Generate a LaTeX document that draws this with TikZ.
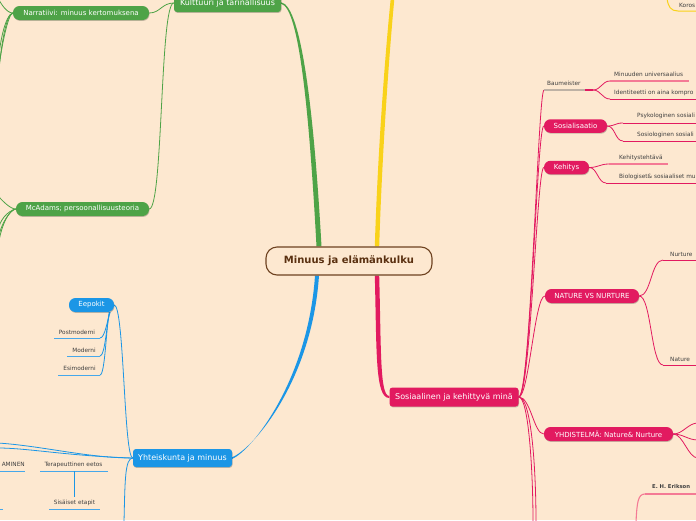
\documentclass[tikz,border=0pt]{standalone}
\usepackage{fontspec}
\setmainfont{DejaVu Sans}
\usetikzlibrary{shadows}
\pgfdeclarelayer{background}
\pgfsetlayers{background,main}
\definecolor{bg}{RGB}{253,232,208}
\definecolor{mgreen}{RGB}{78,163,71}
\definecolor{mblue}{RGB}{27,150,230}
\definecolor{lblue}{RGB}{70,168,235}
\definecolor{mpink}{RGB}{226,26,96}
\definecolor{lpink}{RGB}{244,122,149}
\definecolor{myellow}{RGB}{249,210,26}
\definecolor{leafgray}{RGB}{64,64,64}
\definecolor{rootbrown}{RGB}{110,66,32}
\definecolor{roottext}{RGB}{90,48,16}
\definecolor{baumgray}{RGB}{190,178,165}
\tikzset{
  shad/.style={drop shadow={shadow xshift=0.5pt, shadow yshift=-0.9pt, opacity=0.22, fill=black}},
  mainbox/.style={fill=#1, rounded corners=3pt, text=white, font=\fontsize{8}{9.6}\selectfont, inner sep=0pt, minimum height=18pt, shad},
  pill/.style={fill=#1, rounded corners=6.5pt, text=white, font=\fontsize{7}{8.4}\selectfont, inner sep=0pt, minimum height=14pt, shad},
  leaf/.style={font=\fontsize{5.8}{7}\selectfont, text=leafgray, inner sep=0pt},
  gline/.style={draw=mgreen, line width=0.8pt},
  bline/.style={draw=mblue, line width=0.8pt},
  bleaf/.style={draw=lblue, line width=1pt},
  pline/.style={draw=mpink, line width=0.8pt},
  pleaf/.style={draw=mpink, line width=1pt},
  plight/.style={draw=lpink, line width=1.1pt},
  yline/.style={draw=myellow, line width=1pt},
}
\begin{document}
\begin{tikzpicture}[x=1pt,y=-1pt]
\useasboundingbox (0,0) rectangle (696,520);
\clip (0,0) rectangle (696,520);

% ---------- nodes ----------
\node[draw=rootbrown, line width=1.1pt, fill=bg, rounded corners=11pt, minimum width=166pt, minimum height=28pt, inner sep=0pt, text=roottext, font=\bfseries\fontsize{10}{12}\selectfont] (root) at (349,261) {Minuus ja elämänkulku};

\node[mainbox=mgreen, minimum width=107pt] (kult) at (227.5,3) {Kulttuuri ja tarinallisuus};
\node[pill=mgreen, minimum width=136pt] (narr) at (81,13) {Narratiivi: minuus kertomuksena};
\node[pill=mgreen, minimum width=133pt] (mcad) at (82.5,209) {McAdams; persoonallisuusteoria};

\node[mainbox=mblue, minimum width=99pt] (yha) at (182.5,458) {Yhteiskunta ja minuus};
\node[pill=mblue, minimum width=45pt] (eep) at (91.5,305) {Eepokit};

\node[mainbox=mpink, minimum width=129pt, minimum height=19pt] (sos) at (454,397) {Sosiaalinen ja kehittyvä minä};
\node[pill=mpink, minimum width=63pt, minimum height=13.5pt] (sosi) at (575.5,126) {Sosialisaatio};
\node[pill=mpink, minimum width=45pt, minimum height=13.5pt] (keh) at (566.5,167.5) {Kehitys};
\node[pill=mpink, minimum width=94pt] (nat) at (592,296) {NATURE VS NURTURE};
\node[pill=mpink, minimum width=129pt] (yhd) at (608.5,434) {YHDISTELMÄ: Nature\& Nurture};

% ---------- leaf texts ----------
\node[leaf, anchor=west] (tbaum) at (547,83) {Baumeister};
\node[leaf, anchor=west] (tminu) at (614,74) {Minuuden universaalius};
\node[leaf, anchor=west] (tiden) at (614,93) {Identiteetti on aina kompro};
\node[leaf, anchor=west] (tpsy) at (637,116) {Psykologinen sosiali};
\node[leaf, anchor=west] (tsoc) at (637,135) {Sosiologinen sosiali};
\node[leaf, anchor=west] (tkt) at (619,158) {Kehitystehtävä};
\node[leaf, anchor=west] (tbio) at (619,177) {Biologiset\& sosiaaliset mu};
\node[leaf, anchor=west] (tnur) at (670,254) {Nurture};
\node[leaf, anchor=west] (tnat) at (670,359) {Nature};
\node[leaf, anchor=west, font=\bfseries\fontsize{5.3}{6.5}\selectfont] (teri) at (652,487) {E. H. Erikson};
\node[leaf, anchor=west] (tkor) at (679,5) {Koros};
\node[leaf] (tpm) at (77,332) {Postmoderni};
\node[leaf] (tmo) at (84,350) {Moderni};
\node[leaf] (tes) at (79.5,368) {Esimoderni};
\node[leaf, anchor=east] (tam) at (25,464.5) {AMINEN};
\node[leaf] (tter) at (73.5,464.5) {Terapeuttinen eetos};
\node[leaf] (tsis) at (74.5,503) {Sisäiset etapit};

% ---------- coordinates ----------
\coordinate (yend) at (393,-6);
\coordinate (gl1) at (-2,-2);
\coordinate (gl2) at (-2,82);
\coordinate (gl3) at (-2,74);
\coordinate (gl4) at (-2,66);
\coordinate (gm1) at (-2,196);
\coordinate (gm2) at (-2,248);
\coordinate (gm3) at (-2,240);
\coordinate (gm4) at (-2,232);
\coordinate (pm) at (100,338);
\coordinate (mo) at (100,356);
\coordinate (es) at (100,375);
\coordinate (bl1) at (-2,443);
\coordinate (bl2) at (-2,448);
\coordinate (bd) at (124,522);
\coordinate (ter) at (74,471);
\coordinate (sis) at (74,497);
\coordinate (baum) at (544,90);
\coordinate (baumP) at (585,90);
\coordinate (baumE) at (593,90);
\coordinate (minu) at (610,81);
\coordinate (iden) at (610,99);
\coordinate (psy) at (623,123);
\coordinate (soc) at (623,141);
\coordinate (kt) at (609,164);
\coordinate (bio) at (606,183);
\coordinate (nur) at (663,260);
\coordinate (natu) at (663,365);
\coordinate (y1) at (698,423);
\coordinate (y2) at (698,440);
\coordinate (y3) at (698,458);
\coordinate (eri) at (645,494);
\coordinate (erid) at (636,522);
\coordinate (pd1) at (533,522);
\coordinate (pd2) at (536,522);
\coordinate (yk1) at (667,-2);
\coordinate (yk2) at (678,11);

\begin{pgfonlayer}{background}
\fill[bg] (0,0) rectangle (696,520);
% ---------- main tapered branches ----------
\fill[mgreen] ([xshift=-32.5pt]root.north) .. controls +(-6.9,-127) and +(18.6,4.2) .. ([yshift=-0.75pt]kult.east)
  -- ([yshift=0.75pt]kult.east) .. controls +(21,4) and +(-7.1,-127) .. ([xshift=-27.5pt]root.north) -- cycle;
\fill[myellow] ([xshift=25.8pt]root.north) .. controls +(3,-97) and +(-5.7,55) .. ([xshift=-1.8pt]yend)
  -- ([xshift=1.8pt]yend) .. controls +(-5.3,55) and +(3,-97) .. ([xshift=30.2pt]root.north) -- cycle;
\fill[mblue] ([xshift=-30pt]root.south) .. controls +(-7,105) and +(21,-8.4) .. ([yshift=0.8pt]yha.east)
  -- ([yshift=-0.8pt]yha.east) .. controls +(19,-7.6) and +(-7,105) .. ([xshift=-34pt]root.south) -- cycle;
\fill[mpink] ([xshift=25.8pt]root.south) .. controls +(2,75) and +(-14.5,0.2) .. ([yshift=-1pt]sos.west)
  -- ([yshift=1pt]sos.west) .. controls +(-9.5,-0.2) and +(2,75) .. ([xshift=30.2pt]root.south) -- cycle;

% ---------- green sub-branches ----------
\draw[gline] (kult.west) .. controls +(-12,0) and +(11,0) .. (narr.east);
\draw[gline] (kult.west) .. controls +(-14,0) and +(14,0) .. (mcad.east);
\draw[gline] (narr.west) .. controls +(-6,0) and +(3,6) .. (gl1);
\draw[gline] (narr.west) .. controls +(-7,0) and +(2,-30) .. (gl2);
\draw[gline] (narr.west) .. controls +(-5,1) and +(3,-25) .. (gl3);
\draw[gline] (narr.west) .. controls +(-8,2) and +(1,-20) .. (gl4);
\draw[gline] (mcad.west) .. controls +(-6,0) and +(4,4) .. (gm1);
\draw[gline] (mcad.west) .. controls +(-7,0) and +(2,-20) .. (gm2);
\draw[gline] (mcad.west) .. controls +(-5,1) and +(3,-18) .. (gm3);
\draw[gline] (mcad.west) .. controls +(-8,2) and +(1,-12) .. (gm4);

% ---------- blue sub-branches ----------
\draw[bline] (eep.east) .. controls +(10,0) and +(-9,0) .. (yha.west);
\draw[bline] ([xshift=-4pt]eep.south east) .. controls +(-3,8) and +(5,0) .. (pm);
\draw[bline] ([xshift=-4.5pt]eep.south east) .. controls +(-3,12) and +(5,0) .. (mo);
\draw[bline] ([xshift=-5pt]eep.south east) .. controls +(-3,16) and +(5,0) .. (es);
\draw[bleaf] (pm) -- +(-46,0);
\draw[bleaf] (mo) -- +(-33,0);
\draw[bleaf] (es) -- +(-42,0);
\draw[bline] (yha.west) .. controls +(-45,0) and +(45,3) .. (bl1);
\draw[bline] (yha.west) .. controls +(-65,-2) and +(30,0) .. (bl2);
\draw[bline] (yha.west) .. controls +(-8,0) and +(1,-40) .. (bd);
\draw[bleaf] (-2,471) -- (25,471);
\draw[bleaf] (40,471) -- (108,471);
\draw[bline] (ter) -- (sis);
\draw[bleaf] (49,509) -- (100,509);
\draw[bleaf] (-2,509) -- (3,509);

% ---------- pink sub-branches ----------
\draw[pline] (sos.east) .. controls +(12,0) and +(-6,0) .. (baum);
\draw[pline] (sos.east) .. controls +(12,0) and +(-7,0) .. (sosi.west);
\draw[pline] (sos.east) .. controls +(12,0) and +(-7,0) .. (keh.west);
\draw[pline] (sos.east) .. controls +(10,0) and +(-10,0) .. (nat.west);
\draw[pline] (sos.east) .. controls +(12,0) and +(-10,0) .. (yhd.west);
\draw[pline] (sos.east) .. controls +(10,0) and +(0,-50) .. (pd1);
\draw[pline] (sos.east) .. controls +(13,0) and +(0,-50) .. (pd2);

\draw[draw=baumgray, line width=1.2pt] (baum) -- (baumP);
\draw[draw=mpink, line width=1.2pt] (baumP) -- (baumE);
\draw[pline] (baumE) .. controls +(8,0) and +(-8,0) .. (minu);
\draw[pline] (baumE) .. controls +(8,0) and +(-8,0) .. (iden);
\draw[plight] (minu) -- (689,81);
\draw[pleaf] (iden) -- (698,99);

\draw[pline] (sosi.east) .. controls +(8,0) and +(-8,0) .. (psy);
\draw[pline] (sosi.east) .. controls +(8,0) and +(-8,0) .. (soc);
\draw[pleaf] (psy) -- (698,123);
\draw[pleaf] (soc) -- (698,141);

\draw[pline] (keh.east) .. controls +(9,0) and +(-9,0) .. (kt);
\draw[pline] (keh.east) .. controls +(8,0) and +(-8,0) .. (bio);
\draw[plight] (kt) -- (668,164);
\draw[pleaf] (bio) -- (698,183);

\draw[pline] (nat.east) .. controls +(12,0) and +(-12,0) .. (nur);
\draw[pline] (nat.east) .. controls +(12,0) and +(-12,0) .. (natu);
\draw[pleaf] (nur) -- (698,260);
\draw[pleaf] (natu) -- (698,365);

\draw[pline] (yhd.east) .. controls +(10,0) and +(-10,0) .. (y1);
\draw[pline] (yhd.east) .. controls +(10,0) and +(-10,0) .. (y2);
\draw[pline] (yhd.east) .. controls +(10,0) and +(-10,0) .. (y3);

\draw[plight] (eri) -- (698,494);
\draw[plight] (erid) .. controls +(1,-20) and +(-7,0) .. (eri);

% ---------- yellow fragment ----------
\draw[yline] (yk1) .. controls +(1,9) and +(-7,0) .. (yk2) -- (698,11);
\end{pgfonlayer}
\end{tikzpicture}
\end{document}
